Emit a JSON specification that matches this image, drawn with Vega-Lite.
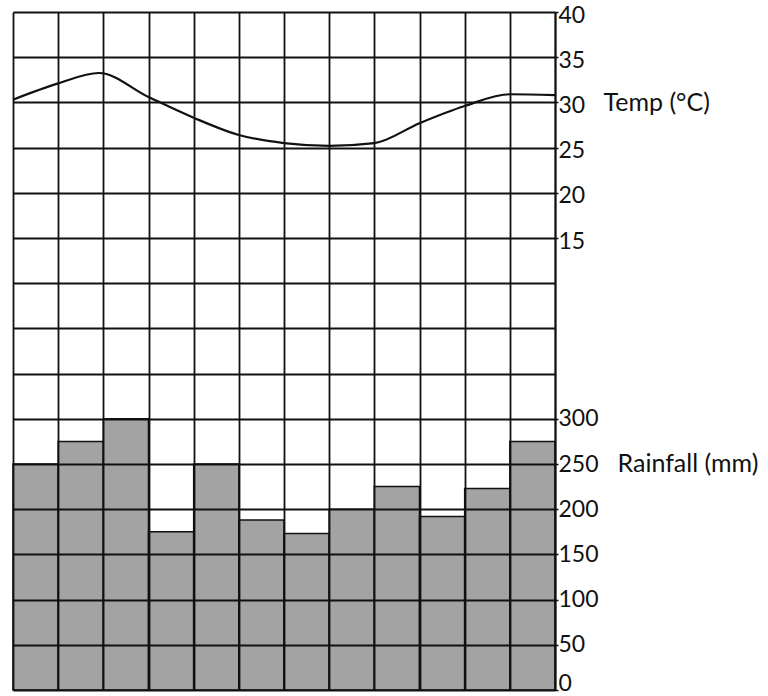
{
  "$schema": "https://vega.github.io/schema/vega-lite/v6.json",
  "width": 542,
  "height": 678,
  "autosize": "none",
  "padding": {"left": 13, "top": 12, "right": 213, "bottom": 6},
  "background": "white",
  "config": {
    "view": {"stroke": null},
    "axis": {"labelFont": "Lato", "titleFont": "Lato", "labelColor": "#111", "titleColor": "#111"}
  },
  "datasets": {
    "rain": [
      {"month": "Jan", "rainfall": 250},
      {"month": "Feb", "rainfall": 275},
      {"month": "Mar", "rainfall": 300},
      {"month": "Apr", "rainfall": 175},
      {"month": "May", "rainfall": 250},
      {"month": "Jun", "rainfall": 188},
      {"month": "Jul", "rainfall": 173},
      {"month": "Aug", "rainfall": 200},
      {"month": "Sep", "rainfall": 225},
      {"month": "Oct", "rainfall": 192},
      {"month": "Nov", "rainfall": 223},
      {"month": "Dec", "rainfall": 275}
    ],
    "temp": [
      {"pos": 0, "temp": 30.3},
      {"pos": 1, "temp": 32.1},
      {"pos": 1.9, "temp": 33.25},
      {"pos": 3, "temp": 30.6},
      {"pos": 4, "temp": 28.3},
      {"pos": 5, "temp": 26.4},
      {"pos": 6, "temp": 25.5},
      {"pos": 7, "temp": 25.2},
      {"pos": 8, "temp": 25.5},
      {"pos": 9, "temp": 27.7},
      {"pos": 10, "temp": 29.6},
      {"pos": 11, "temp": 30.9},
      {"pos": 12, "temp": 30.8}
    ]
  },
  "layer": [
    {
      "data": {"name": "rain"},
      "mark": {"type": "bar", "fill": "#a3a3a3", "stroke": "#111", "strokeWidth": 1.5},
      "encoding": {
        "x": {"field": "month", "type": "ordinal", "sort": null, "scale": {"paddingInner": 0, "paddingOuter": 0}, "axis": null},
        "y": {
          "field": "rainfall", "type": "quantitative",
          "scale": {"domain": [0, 750], "nice": false},
          "axis": {
            "orient": "right", "values": [0, 50, 100, 150, 200, 250, 300],
            "grid": false, "domain": false,
            "tickSize": 3, "tickColor": "#111", "tickWidth": 1.5,
            "labelPadding": 0, "labelFontSize": 23,
            "labelBaseline": {"condition": {"test": "datum.value == 0", "value": "alphabetic"}, "value": "middle"},
            "title": "Rainfall (mm)", "titleAngle": 0, "titleAlign": "left", "titleBaseline": "middle",
            "titleX": 62, "titleY": 451, "titleFontSize": 25, "titleFontWeight": "normal"
          }
        }
      }
    },
    {
      "data": {"name": "temp"},
      "mark": {"type": "line", "interpolate": "monotone", "stroke": "#111", "strokeWidth": 2.2},
      "encoding": {
        "x": {
          "field": "pos", "type": "quantitative",
          "scale": {"domain": [0, 12], "nice": false},
          "axis": {
            "values": [0, 1, 2, 3, 4, 5, 6, 7, 8, 9, 10, 11, 12],
            "grid": true, "gridColor": "#111", "gridWidth": 1.8, "gridOpacity": 1,
            "labels": false, "ticks": false, "domain": false, "title": null, "zindex": 1
          }
        },
        "y": {
          "field": "temp", "type": "quantitative",
          "scale": {"domain": [-35, 40], "nice": false, "zero": false},
          "axis": {
            "orient": "right",
            "values": [-35, -30, -25, -20, -15, -10, -5, 0, 5, 10, 15, 20, 25, 30, 35, 40],
            "grid": true, "gridColor": "#111", "gridWidth": 1.8, "gridOpacity": 1,
            "domain": true, "domainColor": "#111", "domainWidth": 1.8,
            "labelExpr": "datum.value >= 15 ? datum.label : ''",
            "tickSize": {"condition": {"test": "datum.value >= 15", "value": 3}, "value": 0},
            "tickColor": "#111", "tickWidth": 1.5,
            "labelPadding": 0, "labelFontSize": 23, "labelBaseline": "middle", "labelOffset": 3,
            "title": "Temp (°C)", "titleAngle": 0, "titleAlign": "left", "titleBaseline": "middle",
            "titleX": 48, "titleY": 90, "titleFontSize": 25, "titleFontWeight": "normal",
            "zindex": 1
          }
        }
      }
    }
  ],
  "resolve": {"scale": {"x": "independent", "y": "independent"}}
}
